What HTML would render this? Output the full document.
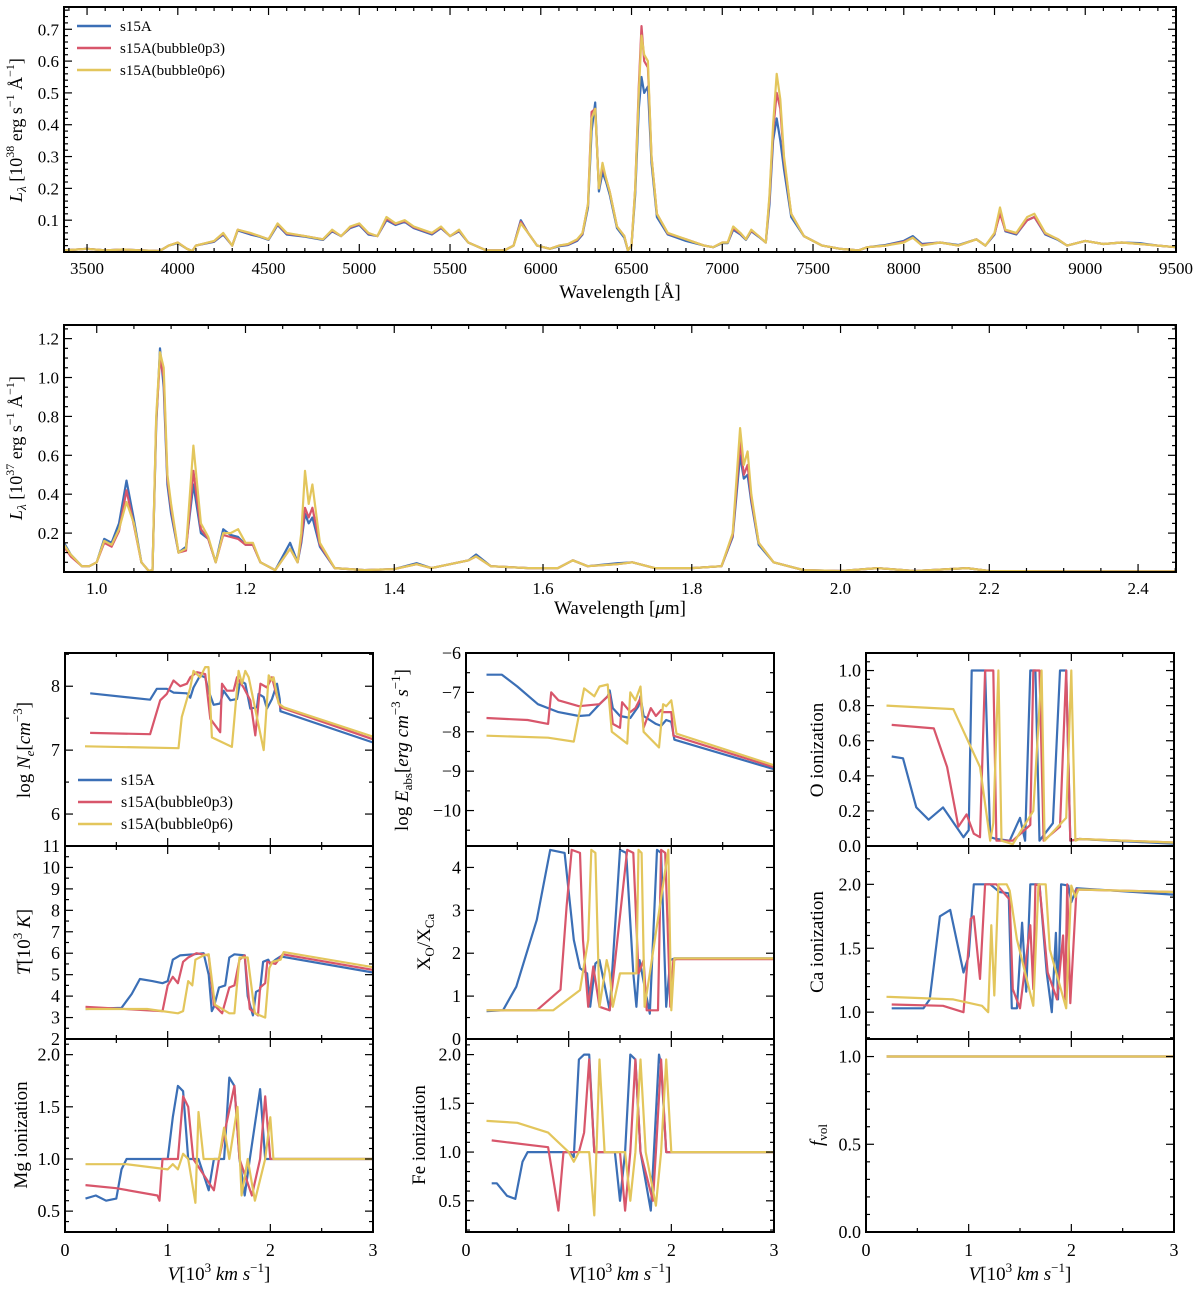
<!DOCTYPE html>
<html><head><meta charset="utf-8">
<style>
body{margin:0;background:#fff;}
svg{display:block;font-family:"Liberation Serif","DejaVu Serif",serif;}
</style></head>
<body>
<svg id="fig" width="1200" height="1292" viewBox="0 0 1200 1292" xmlns="http://www.w3.org/2000/svg"></svg>
<script>
// ---------- DATA: optical spectrum ----------
const wlOpt = [3373,3500,3600,3700,3800,3900,3950,4000,4050,4080,4100,4200,4250,4300,4330,4400,4450,4500,4550,4600,4700,4800,4850,4900,4950,5000,5050,5100,5150,5200,5250,5300,5400,5450,5500,5550,5600,5700,5800,5850,5890,5930,5980,6050,6100,6150,6200,6230,6260,6280,6300,6320,6340,6360,6380,6420,6460,6480,6500,6520,6540,6555,6570,6590,6610,6640,6700,6800,6900,6950,7000,7030,7060,7100,7130,7160,7200,7240,7260,7280,7300,7320,7340,7380,7450,7550,7650,7750,7800,7900,8000,8050,8100,8200,8300,8400,8450,8500,8530,8560,8620,8680,8720,8780,8850,8900,9000,9100,9200,9300,9400,9500];
const optYellow = [0.005,0.01,0.005,0.008,0.005,0.003,0.02,0.03,0.01,0.003,0.02,0.035,0.06,0.02,0.07,0.06,0.05,0.04,0.09,0.06,0.05,0.04,0.07,0.05,0.08,0.09,0.06,0.05,0.11,0.09,0.10,0.08,0.06,0.08,0.05,0.07,0.03,0.005,0.005,0.02,0.09,0.06,0.02,0.01,0.02,0.025,0.04,0.06,0.15,0.42,0.45,0.20,0.28,0.23,0.19,0.08,0.05,0.005,0.02,0.2,0.5,0.68,0.62,0.6,0.3,0.12,0.06,0.04,0.02,0.015,0.03,0.03,0.08,0.06,0.04,0.07,0.05,0.03,0.18,0.4,0.56,0.48,0.3,0.12,0.05,0.02,0.01,0.005,0.015,0.02,0.03,0.045,0.02,0.03,0.02,0.04,0.02,0.06,0.14,0.07,0.06,0.11,0.12,0.06,0.04,0.02,0.035,0.025,0.03,0.025,0.02,0.015];
const optBlue = [0.005,0.01,0.005,0.008,0.005,0.003,0.02,0.028,0.01,0.003,0.02,0.032,0.055,0.02,0.068,0.055,0.048,0.038,0.085,0.055,0.048,0.038,0.065,0.05,0.075,0.085,0.055,0.05,0.1,0.085,0.095,0.075,0.055,0.075,0.05,0.065,0.03,0.005,0.005,0.02,0.1,0.06,0.02,0.01,0.018,0.022,0.035,0.055,0.14,0.38,0.47,0.19,0.25,0.22,0.18,0.075,0.045,0.005,0.02,0.18,0.45,0.55,0.5,0.52,0.28,0.11,0.055,0.035,0.02,0.015,0.028,0.028,0.07,0.055,0.038,0.065,0.048,0.03,0.15,0.35,0.42,0.35,0.26,0.11,0.05,0.02,0.01,0.005,0.015,0.022,0.035,0.05,0.025,0.03,0.022,0.04,0.02,0.055,0.13,0.065,0.055,0.1,0.11,0.055,0.038,0.02,0.035,0.025,0.03,0.028,0.02,0.015];
const optRed = [0.005,0.01,0.005,0.008,0.005,0.003,0.02,0.03,0.01,0.003,0.02,0.034,0.058,0.02,0.07,0.058,0.05,0.04,0.088,0.058,0.05,0.04,0.068,0.05,0.078,0.088,0.058,0.05,0.105,0.088,0.098,0.078,0.058,0.078,0.05,0.068,0.03,0.005,0.005,0.02,0.095,0.06,0.02,0.01,0.02,0.024,0.038,0.058,0.15,0.44,0.45,0.2,0.27,0.23,0.19,0.08,0.05,0.005,0.02,0.2,0.52,0.71,0.6,0.58,0.3,0.12,0.058,0.04,0.02,0.015,0.03,0.03,0.075,0.058,0.04,0.068,0.05,0.03,0.17,0.38,0.5,0.45,0.29,0.12,0.05,0.02,0.01,0.005,0.015,0.02,0.032,0.045,0.022,0.03,0.02,0.04,0.02,0.058,0.12,0.068,0.058,0.1,0.11,0.058,0.04,0.02,0.035,0.025,0.03,0.025,0.02,0.015];
// ---------- DATA: NIR spectrum ----------
const wlNir = [0.956,0.965,0.98,0.99,1.0,1.01,1.02,1.03,1.04,1.05,1.06,1.07,1.075,1.08,1.085,1.09,1.095,1.10,1.11,1.12,1.13,1.14,1.15,1.16,1.17,1.18,1.19,1.20,1.21,1.22,1.24,1.26,1.27,1.275,1.28,1.285,1.29,1.30,1.32,1.36,1.40,1.43,1.45,1.50,1.51,1.53,1.58,1.62,1.64,1.66,1.70,1.72,1.75,1.80,1.84,1.855,1.865,1.87,1.875,1.88,1.89,1.91,1.95,2.0,2.05,2.1,2.17,2.2,2.3,2.45];
const nirYellow = [0.14,0.09,0.03,0.03,0.05,0.16,0.14,0.22,0.36,0.25,0.05,0.005,0.01,0.8,1.13,1.05,0.5,0.35,0.1,0.12,0.65,0.25,0.18,0.05,0.2,0.2,0.22,0.15,0.15,0.05,0.01,0.12,0.05,0.2,0.52,0.35,0.45,0.15,0.02,0.01,0.015,0.04,0.02,0.06,0.08,0.03,0.02,0.02,0.06,0.03,0.04,0.05,0.02,0.02,0.03,0.2,0.74,0.55,0.62,0.4,0.15,0.05,0.01,0.005,0.02,0.005,0.02,0.005,0.003,0.003];
const nirBlue = [0.15,0.09,0.03,0.03,0.05,0.17,0.15,0.25,0.47,0.27,0.05,0.005,0.01,0.75,1.15,0.95,0.45,0.3,0.1,0.13,0.45,0.2,0.17,0.05,0.22,0.19,0.18,0.14,0.14,0.05,0.01,0.15,0.05,0.15,0.3,0.25,0.28,0.13,0.02,0.01,0.015,0.045,0.02,0.06,0.09,0.03,0.02,0.02,0.06,0.03,0.045,0.05,0.02,0.02,0.03,0.18,0.6,0.48,0.5,0.36,0.14,0.05,0.01,0.005,0.02,0.005,0.02,0.005,0.003,0.003];
const nirRed = [0.13,0.08,0.03,0.03,0.05,0.15,0.13,0.21,0.42,0.24,0.05,0.005,0.01,0.78,1.1,1.0,0.48,0.33,0.1,0.11,0.52,0.22,0.17,0.05,0.19,0.18,0.17,0.14,0.14,0.05,0.01,0.12,0.05,0.17,0.33,0.28,0.33,0.14,0.02,0.01,0.015,0.04,0.02,0.06,0.08,0.03,0.02,0.02,0.06,0.03,0.04,0.05,0.02,0.02,0.03,0.19,0.67,0.5,0.55,0.38,0.15,0.05,0.01,0.005,0.02,0.005,0.02,0.005,0.003,0.003];
// ---------- DATA: ejecta profiles (V in 1e3 km/s) ----------
const neBlueV=[0.245,0.829,0.894,0.992,1.057,1.187,1.22,1.252,1.317,1.366,1.398,1.447,1.512,1.545,1.61,1.675,1.707,1.756,1.805,1.87,1.886,1.935,1.967,2.016,2.065,2.091,2.098,3.0];
const neBlue=[7.89,7.79,7.96,7.96,7.9,7.89,7.82,7.98,8.17,8.14,7.93,7.71,7.73,7.93,7.78,7.8,8.09,8.04,7.65,7.67,7.88,7.83,7.65,7.8,8.04,7.8,7.61,7.12];
const neRedV=[0.244,0.829,0.927,0.992,1.057,1.122,1.187,1.22,1.285,1.366,1.415,1.512,1.529,1.577,1.642,1.675,1.74,1.805,1.854,1.903,1.967,2.016,2.065,2.098,3.0];
const neRed=[7.27,7.25,7.78,7.88,8.09,8.0,8.04,8.14,8.22,8.19,7.49,7.28,8.04,7.93,7.93,8.14,7.98,7.78,7.23,8.04,7.98,8.14,7.83,7.67,7.17];
const neYelV=[0.195,1.106,1.138,1.22,1.252,1.317,1.366,1.398,1.431,1.626,1.691,1.724,1.756,1.789,1.935,1.984,2.016,2.032,2.081,2.13,3.0];
const neYel=[7.06,7.03,7.52,7.98,8.24,8.14,8.3,8.3,7.2,7.05,8.24,8.04,8.24,8.14,7.0,8.17,8.09,8.14,7.73,7.67,7.21];

const tBlueV=[0.2,0.55,0.65,0.73,0.85,0.95,1.0,1.05,1.12,1.25,1.35,1.4,1.43,1.45,1.5,1.56,1.6,1.65,1.75,1.78,1.83,1.86,1.9,1.93,1.98,2.0,2.05,2.1,3.0];
const tBlue=[3.4,3.45,4.1,4.8,4.7,4.6,4.7,5.7,5.9,5.95,6.0,5.0,3.3,3.5,4.4,4.5,5.8,5.95,5.9,4.0,3.1,4.2,4.3,5.6,5.7,5.5,5.7,5.85,5.1];
const tRedV=[0.2,0.95,1.0,1.05,1.1,1.15,1.2,1.28,1.4,1.45,1.53,1.6,1.65,1.7,1.75,1.8,1.88,1.9,1.95,1.97,2.05,2.12,3.0];
const tRed=[3.5,3.3,4.5,4.9,4.6,5.6,5.8,6.0,5.9,3.6,3.2,4.4,4.5,5.7,5.9,3.4,3.1,4.4,4.6,5.6,5.5,5.95,5.22];
const tYelV=[0.2,0.8,1.1,1.15,1.2,1.24,1.27,1.35,1.4,1.46,1.6,1.65,1.7,1.78,1.85,1.95,1.99,2.02,2.1,2.13,3.0];
const tYel=[3.4,3.4,3.2,3.3,4.7,4.5,5.7,5.9,5.95,3.6,3.2,3.2,5.8,5.8,3.2,3.0,5.3,5.6,5.7,6.05,5.35];

const mgBlueV=[0.2,0.3,0.4,0.5,0.55,0.6,1.0,1.05,1.1,1.15,1.2,1.3,1.4,1.45,1.55,1.6,1.65,1.7,1.75,1.8,1.9,1.95,3.0];
const mgBlue=[0.62,0.65,0.6,0.62,0.9,1.0,1.0,1.4,1.7,1.65,1.0,1.0,0.7,1.0,1.0,1.78,1.7,1.0,0.65,1.0,1.67,1.0,1.0];
const mgRedV=[0.2,0.5,0.9,0.92,0.95,1.1,1.15,1.2,1.25,1.45,1.5,1.65,1.7,1.82,1.9,1.95,2.0,3.0];
const mgRed=[0.75,0.72,0.65,0.6,1.0,1.0,1.6,1.5,1.0,0.7,1.0,1.7,1.0,0.65,1.0,1.6,1.0,1.0];
const mgYelV=[0.2,0.6,1.0,1.05,1.1,1.15,1.2,1.27,1.3,1.35,1.5,1.55,1.6,1.68,1.72,1.78,1.85,1.95,2.0,2.03,3.0];
const mgYel=[0.95,0.95,0.9,0.95,0.9,1.05,1.0,0.58,1.45,1.0,1.0,1.3,1.0,1.5,0.65,1.0,0.6,1.0,1.4,1.0,1.0];

const eBlueV=[0.2,0.35,0.5,0.7,0.9,1.1,1.2,1.3,1.38,1.4,1.43,1.5,1.6,1.68,1.7,1.73,1.85,1.9,1.95,2.0,2.03,3.0];
const eBlue=[-6.55,-6.55,-6.85,-7.3,-7.5,-7.6,-7.58,-7.3,-7.1,-6.95,-7.4,-7.6,-7.65,-7.35,-7.1,-7.6,-7.8,-7.85,-7.7,-7.75,-8.2,-8.95];
const eRedV=[0.2,0.6,0.8,0.83,0.9,1.1,1.3,1.4,1.43,1.5,1.52,1.6,1.65,1.7,1.73,1.8,1.85,1.9,1.92,2.0,2.02,3.0];
const eRed=[-7.65,-7.7,-7.8,-7.0,-7.2,-7.35,-7.3,-7.05,-7.8,-7.9,-7.25,-7.5,-7.4,-7.15,-7.9,-7.4,-7.6,-7.45,-7.5,-7.5,-8.1,-8.9];
const eYelV=[0.2,0.8,1.05,1.15,1.25,1.3,1.38,1.42,1.57,1.6,1.65,1.7,1.73,1.88,1.92,1.95,2.0,2.05,3.0];
const eYel=[-8.1,-8.15,-8.25,-6.9,-7.1,-6.85,-6.8,-8.0,-8.3,-7.0,-7.2,-6.85,-8.0,-8.4,-7.3,-7.35,-7.2,-8.05,-8.85];

const xoBlueV=[0.2,0.36,0.49,0.69,0.82,0.96,1.05,1.11,1.18,1.21,1.26,1.3,1.4,1.5,1.56,1.63,1.66,1.69,1.79,1.86,1.9,1.95,1.99,2.03,2.08,3.0];
const xoBlue=[0.65,0.67,1.22,2.78,4.41,4.34,2.31,1.65,1.53,0.75,1.76,1.84,0.67,4.41,4.34,1.53,0.75,1.84,0.59,4.41,4.34,0.75,1.84,1.88,1.88,1.88];
const xoRedV=[0.2,0.69,0.92,0.98,1.03,1.11,1.14,1.19,1.24,1.3,1.4,1.57,1.63,1.68,1.73,1.76,1.87,1.9,1.94,1.99,2.02,2.05,3.0];
const xoRed=[0.67,0.67,1.15,3.09,4.41,4.34,2.31,0.75,1.69,0.75,0.67,4.41,4.34,1.53,1.84,0.67,0.67,4.41,4.34,0.75,1.84,1.86,1.86];
const xoYelV=[0.2,0.85,1.11,1.19,1.22,1.26,1.3,1.37,1.4,1.43,1.5,1.66,1.68,1.71,1.74,1.79,1.97,2.0,2.03,3.0];
const xoYel=[0.67,0.67,1.14,2.31,4.41,4.34,0.75,1.84,1.53,0.75,1.53,1.53,4.41,4.34,0.75,1.53,4.41,0.67,1.88,1.88];

const feBlueV=[0.25,0.3,0.4,0.48,0.55,0.6,1.0,1.05,1.1,1.15,1.2,1.25,1.45,1.5,1.55,1.6,1.65,1.7,1.8,1.83,1.88,1.9,1.95,3.0];
const feBlue=[0.68,0.68,0.55,0.52,0.9,1.0,1.0,0.95,1.95,2.0,2.0,1.0,1.0,0.5,1.0,2.0,1.95,1.0,0.4,1.0,2.0,1.9,1.0,1.0];
const feRedV=[0.25,0.4,0.8,0.9,0.95,1.1,1.15,1.2,1.25,1.5,1.55,1.6,1.65,1.7,1.82,1.85,1.9,1.95,3.0];
const feRed=[1.12,1.1,1.05,0.4,1.0,1.0,1.2,1.95,1.0,1.0,0.4,1.0,1.95,1.0,0.5,1.0,1.95,1.0,1.0];
const feYelV=[0.2,0.5,0.8,1.0,1.05,1.1,1.2,1.25,1.3,1.35,1.55,1.6,1.65,1.7,1.75,1.85,1.9,1.95,2.0,3.0];
const feYel=[1.32,1.3,1.2,1.0,0.9,1.0,1.0,0.35,1.95,1.0,1.0,0.5,1.0,1.95,1.0,0.45,1.0,1.95,1.0,1.0];

const oBlueV=[0.25,0.36,0.49,0.61,0.75,0.88,0.95,1.0,1.03,1.16,1.21,1.27,1.4,1.5,1.55,1.6,1.65,1.69,1.82,1.89,1.95,1.99,2.08,2.99];
const oBlue=[0.51,0.5,0.22,0.15,0.22,0.11,0.05,0.09,1.0,1.0,0.05,0.04,0.03,0.16,0.03,1.0,1.0,0.03,0.13,1.0,1.0,0.03,0.04,0.013];
const oRedV=[0.25,0.66,0.79,0.9,0.98,1.05,1.11,1.16,1.24,1.27,1.43,1.6,1.63,1.69,1.73,1.89,1.95,1.99,2.08,2.99];
const oRed=[0.69,0.67,0.45,0.11,0.18,0.07,0.05,1.0,1.0,0.03,0.03,0.12,1.0,1.0,0.03,0.11,1.0,0.03,0.04,0.02];
const oYelV=[0.2,0.85,1.11,1.21,1.24,1.29,1.32,1.43,1.63,1.71,1.74,1.95,2.0,2.04,2.08,2.99];
const oYel=[0.8,0.78,0.45,0.03,0.13,1.0,0.03,0.01,0.2,1.0,0.03,0.16,1.0,0.03,0.04,0.02];

const caBlueV=[0.25,0.56,0.62,0.72,0.82,0.95,1.0,1.05,1.21,1.3,1.39,1.42,1.47,1.52,1.56,1.6,1.69,1.76,1.81,1.85,1.87,1.9,1.97,2.0,2.05,2.99];
const caBlue=[1.03,1.03,1.1,1.75,1.8,1.31,1.44,2.0,2.0,1.94,1.93,1.03,1.03,1.7,1.16,2.0,2.0,1.31,1.0,1.62,1.1,2.0,1.99,1.86,1.97,1.92];
const caRedV=[0.25,0.75,0.95,1.02,1.05,1.11,1.16,1.27,1.4,1.43,1.5,1.6,1.63,1.65,1.69,1.77,1.86,1.92,1.94,1.96,1.99,2.05,2.99];
const caRed=[1.06,1.05,1.0,1.73,1.75,1.26,2.0,2.0,1.88,1.18,1.03,1.68,1.18,2.0,1.99,1.31,1.1,1.6,1.1,2.0,1.07,1.96,1.94];
const caYelV=[0.2,0.85,1.13,1.19,1.22,1.25,1.29,1.37,1.4,1.47,1.63,1.68,1.75,1.79,1.95,1.97,2.0,2.04,2.07,2.99];
const caYel=[1.12,1.1,1.05,1.0,1.68,1.13,2.0,2.0,1.95,1.57,1.05,2.0,2.0,1.49,1.03,1.44,1.99,1.9,1.96,1.94];

const fvolV=[0.2,3.0];
const fvolBlue=[1.0,1.0];
const fvolRed=[1.0,1.0];
const fvolYel=[1.0,1.0];

const seriesNames=["s15A","s15A(bubble0p3)","s15A(bubble0p6)"];
const colors=["#3b6fb6","#d8566b","#e3c65c"];
const vTicks=[0,1,2,3];

// ---------- DRAWING ----------
const NS="http://www.w3.org/2000/svg";
const svg=document.getElementById('fig');
function mk(tag,attrs,parent){const e=document.createElementNS(NS,tag);for(const k in attrs)e.setAttribute(k,attrs[k]);(parent||svg).appendChild(e);return e;}
let clipId=0;
function panel(name,x0,y0,w,h,xmin,xmax,ymin,ymax,xmaj,xmin_,ymaj,ymin_){
  const g=mk('g',{});
  
  
  const sx=v=>x0+(v-xmin)/(xmax-xmin)*w;
  const sy=v=>y0+h-(v-ymin)/(ymax-ymin)*h;
  const cid='c'+(clipId++);
  const cp=mk('clipPath',{id:cid},g);mk('rect',{x:x0,y:y0,width:w,height:h},cp);
  const lines=mk('g',{'clip-path':`url(#${cid})`},g);
  const ticks=mk('g',{stroke:'#000','stroke-width':1.2},g);
  const eps=1e-9;
  for(let v=Math.ceil(xmin/xmin_-eps)*xmin_;v<=xmax+eps;v+=xmin_){
    const isMaj=Math.abs(v/xmaj-Math.round(v/xmaj))<1e-6;const L=isMaj?8:4;const X=sx(v);
    mk('line',{x1:X,y1:y0+h,x2:X,y2:y0+h-L},ticks);mk('line',{x1:X,y1:y0,x2:X,y2:y0+L},ticks);
  }
  for(let v=Math.ceil(ymin/ymin_-eps)*ymin_;v<=ymax+eps;v+=ymin_){
    const isMaj=Math.abs(v/ymaj-Math.round(v/ymaj))<1e-6;const L=isMaj?8:4;const Y=sy(v);
    mk('line',{x1:x0,y1:Y,x2:x0+L,y2:Y},ticks);mk('line',{x1:x0+w,y1:Y,x2:x0+w-L,y2:Y},ticks);
  }
  mk('rect',{x:x0,y:y0,width:w,height:h,fill:'none',stroke:'#000','stroke-width':2},g);
  return {g,lines,sx,sy,x0,y0,w,h};
}
function series(p,xs,ys,color,name){
  const pts=xs.map((x,i)=>p.sx(x).toFixed(1)+','+p.sy(ys[i]).toFixed(1)).join(' ');
  const pl=mk('polyline',{points:pts,fill:'none',stroke:color,'stroke-width':2.2,'stroke-linejoin':'round'},p.lines);
  
  
}
function txt(s,x,y,size,anchor,name,rot){
  const t=mk('text',{x:x,y:y,'font-size':size,'text-anchor':anchor||'middle',fill:'#000'});
  if(rot)t.setAttribute('transform',`rotate(${rot} ${x} ${y})`);
  t.innerHTML=s;
  
  
  return t;
}
function yLabels(p,vals,fmt,size,prefix){
  vals.forEach(v=>{txt(fmt(v),p.x0-5,p.sy(v)+6,size,'end',prefix+'-tick-'+fmt(v));});
}
function xLabels(p,vals,fmt,size,prefix,dy){
  vals.forEach(v=>{txt(fmt(v),p.sx(v),p.y0+p.h+(dy||22),size,'middle',prefix+'-tick-'+fmt(v));});
}
function legend(x,y,dy,size,prefix){
  seriesNames.forEach((n,i)=>{
    const l=mk('line',{x1:x,y1:y+i*dy-5,x2:x+34,y2:y+i*dy-5,stroke:colors[i],'stroke-width':2.6});
    
    
    txt(n,x+43,y+i*dy,size,'start',prefix+'-label-'+i);
  });
}
const minus='\u2212';
const fm=v=>(v<0?minus:'')+Math.abs(v);

// --- top panel ---
const p1=panel('optical-spectrum-panel',64,7,1112,245,3373,9500,0,0.77,500,100,0.1,0.02);
series(p1,wlOpt,optBlue,colors[0],'optical-s15A-line');
series(p1,wlOpt,optRed,colors[1],'optical-bubble0p3-line');
series(p1,wlOpt,optYellow,colors[2],'optical-bubble0p6-line');
yLabels(p1,[0.1,0.2,0.3,0.4,0.5,0.6,0.7],v=>v.toFixed(1),17,'optical-y');
xLabels(p1,[3500,4000,4500,5000,5500,6000,6500,7000,7500,8000,8500,9000,9500],v=>String(v),17,'optical-x');
txt('Wavelength [Å]',620,298,19,'middle','optical-x-axis-title');
txt('<tspan font-style="italic">L</tspan><tspan font-style="italic" font-size="13" dy="4">λ</tspan><tspan dy="-4"> [10</tspan><tspan font-size="12" dy="-8">38</tspan><tspan dy="8"> erg s</tspan><tspan font-size="12" dy="-8">−1</tspan><tspan dy="8"> Å</tspan><tspan font-size="12" dy="-8">−1</tspan><tspan dy="8">]</tspan>',22,130,18,'middle','optical-y-axis-title',-90);
legend(77,31,22,15,'optical-legend');

// --- NIR panel ---
const p2=panel('nir-spectrum-panel',64,325,1112,247,0.956,2.451,0,1.27,0.2,0.05,0.2,0.05);
series(p2,wlNir,nirBlue,colors[0],'nir-s15A-line');
series(p2,wlNir,nirRed,colors[1],'nir-bubble0p3-line');
series(p2,wlNir,nirYellow,colors[2],'nir-bubble0p6-line');
yLabels(p2,[0.2,0.4,0.6,0.8,1.0,1.2],v=>v.toFixed(1),17,'nir-y');
xLabels(p2,[1.0,1.2,1.4,1.6,1.8,2.0,2.2,2.4],v=>v.toFixed(1),17,'nir-x');
txt('Wavelength [<tspan font-style="italic">μ</tspan>m]',620,614,19,'middle','nir-x-axis-title');
txt('<tspan font-style="italic">L</tspan><tspan font-style="italic" font-size="13" dy="4">λ</tspan><tspan dy="-4"> [10</tspan><tspan font-size="12" dy="-8">37</tspan><tspan dy="8"> erg s</tspan><tspan font-size="12" dy="-8">−1</tspan><tspan dy="8"> Å</tspan><tspan font-size="12" dy="-8">−1</tspan><tspan dy="8">]</tspan>',22,448,18,'middle','nir-y-axis-title',-90);

// --- bottom grid ---
const cols=[65,466,866], cw=308, rows=[653,846,1039], rh=193;
const TF=18;
function three(p,xs,ys,base){
  series(p,xs[0],ys[0],colors[0],base+'-s15A-line');
  series(p,xs[1],ys[1],colors[1],base+'-bubble0p3-line');
  series(p,xs[2],ys[2],colors[2],base+'-bubble0p6-line');
}
const pNe=panel('ne-panel',cols[0],rows[0],cw,rh,0,3,5.5,8.52,1,0.5,1,0.5);
three(pNe,[neBlueV,neRedV,neYelV],[neBlue,neRed,neYel],'ne');
yLabels(pNe,[6,7,8],fm,TF,'ne-y');
txt('log <tspan font-style="italic">N<tspan font-size="13" dy="4">e</tspan></tspan><tspan dy="-4">[</tspan><tspan font-style="italic">cm</tspan><tspan font-size="13" dy="-8">−3</tspan><tspan dy="8">]</tspan>',30,750,19,'middle','ne-y-axis-title',-90);
legend(78,785,22,16,'profile-legend');

const pT=panel('temperature-panel',cols[0],rows[1],cw,rh,0,3,2,11,1,0.5,1,0.5);
three(pT,[tBlueV,tRedV,tYelV],[tBlue,tRed,tYel],'temperature');
yLabels(pT,[2,3,4,5,6,7,8,9,10,11],fm,TF,'temperature-y');
txt('<tspan font-style="italic">T</tspan>[10<tspan font-size="13" dy="-8">3</tspan><tspan dy="8"> </tspan><tspan font-style="italic">K</tspan>]',30,942,19,'middle','temperature-y-axis-title',-90);

const pMg=panel('mg-ionization-panel',cols[0],rows[2],cw,rh,0,3,0.3,2.15,1,0.5,0.5,0.1);
three(pMg,[mgBlueV,mgRedV,mgYelV],[mgBlue,mgRed,mgYel],'mg');
yLabels(pMg,[0.5,1.0,1.5,2.0],v=>v.toFixed(1),TF,'mg-y');
xLabels(pMg,vTicks,String,TF,'mg-x',24);
txt('Mg ionization',27,1135,19,'middle','mg-y-axis-title',-90);

const pE=panel('eabs-panel',cols[1],rows[0],cw,rh,0,3,-10.9,-6,1,0.5,1,0.5);
three(pE,[eBlueV,eRedV,eYelV],[eBlue,eRed,eYel],'eabs');
yLabels(pE,[-6,-7,-8,-9,-10],fm,TF,'eabs-y');
txt('log <tspan font-style="italic">E</tspan><tspan font-size="13" dy="4">abs</tspan><tspan dy="-4">[</tspan><tspan font-style="italic">erg cm</tspan><tspan font-size="13" dy="-8">−3</tspan><tspan dy="8" font-style="italic"> s</tspan><tspan font-size="13" dy="-8">−1</tspan><tspan dy="8">]</tspan>',408,750,19,'middle','eabs-y-axis-title',-90);

const pX=panel('xo-xca-panel',cols[1],rows[1],cw,rh,0,3,0,4.5,1,0.5,1,0.5);
three(pX,[xoBlueV,xoRedV,xoYelV],[xoBlue,xoRed,xoYel],'xo-xca');
yLabels(pX,[0,1,2,3,4],fm,TF,'xo-xca-y');
txt('X<tspan font-size="13" dy="4">O</tspan><tspan dy="-4">/X</tspan><tspan font-size="13" dy="4">Ca</tspan>',430,942,19,'middle','xo-xca-y-axis-title',-90);

const pFe=panel('fe-ionization-panel',cols[1],rows[2],cw,rh,0,3,0.18,2.16,1,0.5,0.5,0.1);
three(pFe,[feBlueV,feRedV,feYelV],[feBlue,feRed,feYel],'fe');
yLabels(pFe,[0.5,1.0,1.5,2.0],v=>v.toFixed(1),TF,'fe-y');
xLabels(pFe,vTicks,String,TF,'fe-x',24);
txt('Fe ionization',425,1135,19,'middle','fe-y-axis-title',-90);

const pO=panel('o-ionization-panel',cols[2],rows[0],cw,rh,0,3,0,1.1,1,0.5,0.2,0.05);
three(pO,[oBlueV,oRedV,oYelV],[oBlue,oRed,oYel],'o');
yLabels(pO,[0,0.2,0.4,0.6,0.8,1.0],v=>v.toFixed(1),TF,'o-y');
txt('O ionization',823,750,19,'middle','o-y-axis-title',-90);

const pCa=panel('ca-ionization-panel',cols[2],rows[1],cw,rh,0,3,0.79,2.3,1,0.5,0.5,0.1);
three(pCa,[caBlueV,caRedV,caYelV],[caBlue,caRed,caYel],'ca');
yLabels(pCa,[1.0,1.5,2.0],v=>v.toFixed(1),TF,'ca-y');
txt('Ca ionization',823,942,19,'middle','ca-y-axis-title',-90);

const pF=panel('fvol-panel',cols[2],rows[2],cw,rh,0,3,0,1.1,1,0.5,0.5,0.1);
three(pF,[fvolV,fvolV,fvolV],[fvolBlue,fvolRed,fvolYel],'fvol');
yLabels(pF,[0,0.5,1.0],v=>v.toFixed(1),TF,'fvol-y');
xLabels(pF,vTicks,String,TF,'fvol-x',24);
txt('<tspan font-style="italic">f</tspan><tspan font-size="13" dy="4">vol</tspan>',823,1135,19,'middle','fvol-y-axis-title',-90);

cols.forEach((c,i)=>{
  txt('<tspan font-style="italic">V</tspan>[10<tspan font-size="13" dy="-8">3</tspan><tspan dy="8" font-style="italic"> km s</tspan><tspan font-size="13" dy="-8">−1</tspan><tspan dy="8">]</tspan>',c+cw/2,1280,19,'middle','velocity-x-axis-title-'+(i+1));
});
</script>
</body></html>
